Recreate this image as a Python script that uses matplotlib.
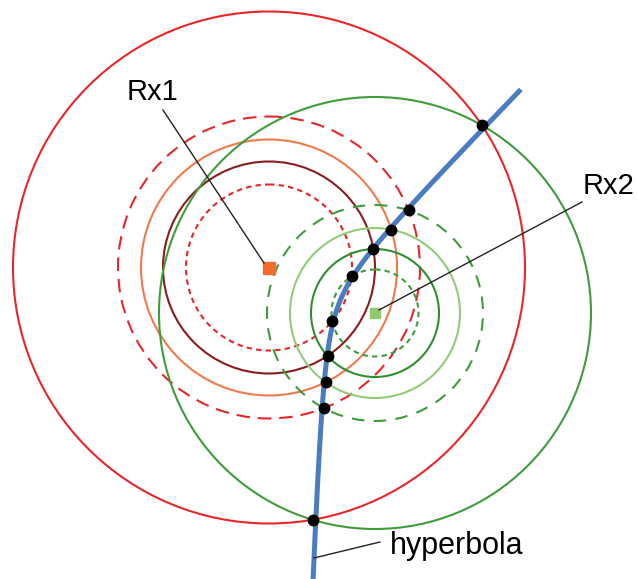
import numpy as np
import matplotlib
matplotlib.use("Agg")
from matplotlib import pyplot as plt
from matplotlib.patches import Circle

plt.rcParams['font.family'] = ['Liberation Sans', 'DejaVu Sans']

# receiver positions (image pixel coords, y down)
rx1 = (269, 267.5)
rx2 = (375, 313)

# range circles: radii, paired by index
r1_radii = [256, 151, 128, 106, 83]
r2_radii = [216, 108, 85, 64, 43.5]
r1_colors = ['#e8262a', '#e8262a', '#f07a4c', '#8a1c1c', '#e8262a']
r2_colors = ['#3f9c3a', '#3f9c3a', '#92cc78', '#2f8f2f', '#3f9c3a']
r1_styles = ['-', (0, (6.5, 3.8)), '-', '-', (0, (2.6, 2.0))]
r2_styles = ['-', (0, (6.0, 4.5)), '-', '-', (0, (2.6, 2.0))]

range_diff = 41.5          # r1 - r2, defines the hyperbola
t_range = (-2.29, 2.9)

fig = plt.figure(figsize=(6.37, 5.79), dpi=100)
ax = fig.add_axes([0, 0, 1, 1])
ax.set_xlim(0, 637)
ax.set_ylim(579, 0)
ax.set_aspect('equal')
ax.axis('off')

for r, c, s in zip(r1_radii, r1_colors, r1_styles):
    ax.add_patch(Circle(rx1, r, fill=False, ec=c, lw=1.5, ls=s))
for r, c, s in zip(r2_radii, r2_colors, r2_styles):
    ax.add_patch(Circle(rx2, r, fill=False, ec=c, lw=1.5, ls=s))

# hyperbola branch near Rx2
f1 = np.array(rx1)
f2 = np.array(rx2)
cen = (f1 + f2) / 2
cdist = np.linalg.norm(f2 - f1) / 2
e = (f2 - f1) / (2 * cdist)
n = np.array([-e[1], e[0]])
a = range_diff / 2
b = np.sqrt(cdist**2 - a**2)
t = np.linspace(t_range[0], t_range[1], 400)
pts = cen + np.outer(a * np.cosh(t), e) + np.outer(b * np.sinh(t), n)
ax.plot(pts[:, 0], pts[:, 1], color='#4a7cc2', lw=3.6, solid_capstyle='butt', zorder=3)

# circle-pair intersections
dots = []
d = 2 * cdist
for r1, r2 in zip(r1_radii, r2_radii):
    x = (d**2 + r1**2 - r2**2) / (2 * d)
    h = np.sqrt(max(r1**2 - x**2, 0))
    for sgn in (1, -1):
        dots.append(f1 + x * e + sgn * h * n)
dots = np.array(dots)
ax.plot(dots[:, 0], dots[:, 1], 'o', color='black', ms=7.5, zorder=4)

# receivers
ax.plot(*rx1, 's', color='#f26a2c', ms=8.5, zorder=5)
ax.plot(*rx2, 's', color='#8fcb6e', ms=7.5, zorder=5)

# labels and leaders
ax.plot([163, 264], [110, 263], color='#222222', lw=1.0, zorder=6)
ax.plot([582, 379], [202, 310], color='#222222', lw=1.0, zorder=6)
ax.plot([380, 314], [542, 558], color='#222222', lw=1.0, zorder=6)
ax.text(127, 100, 'Rx1', fontsize=21, ha='left', va='baseline')
ax.text(583, 194, 'Rx2', fontsize=21, ha='left', va='baseline')
ax.text(390, 554, 'hyperbola', fontsize=22, ha='left', va='baseline')

fig.savefig('out.png', dpi=100)
